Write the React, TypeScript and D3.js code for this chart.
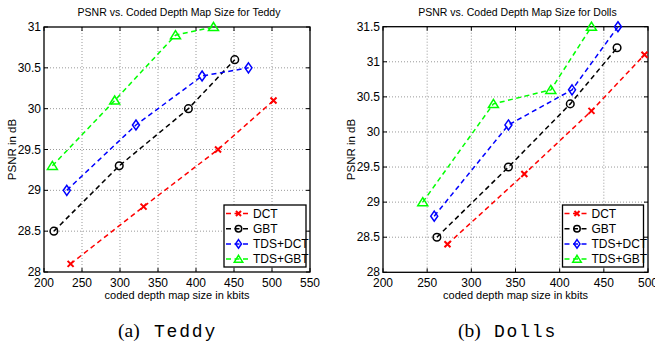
import React from 'react';
import * as d3 from 'd3';

// series names and colours
const seriesNames = ['DCT', 'GBT', 'TDS+DCT', 'TDS+GBT'];
const seriesColors = ['#ff0000', '#000000', '#0000ff', '#00ff00'];
const seriesMarkers = ['x', 'o', 'd', '^'];

// Teddy: coded size (kbits) and PSNR (dB)
const teddyX = [
  [235, 331, 429, 502],
  [213, 299, 390, 451],
  [230, 321, 408, 469],
  [211, 293, 373, 423],
];
const teddyY = [
  [28.1, 28.8, 29.5, 30.1],
  [28.5, 29.3, 30.0, 30.6],
  [29.0, 29.8, 30.4, 30.5],
  [29.3, 30.1, 30.9, 31.0],
];

// Dolls
const dollsX = [
  [273, 360, 436, 496],
  [261, 342, 412, 465],
  [258, 342, 414, 466],
  [245, 325, 390, 436],
];
const dollsY = [
  [28.4, 29.4, 30.3, 31.1],
  [28.5, 29.5, 30.4, 31.2],
  [28.8, 30.1, 30.6, 31.5],
  [29.0, 30.4, 30.6, 31.5],
];

const teddyXTicks = [200, 250, 300, 350, 400, 450, 500, 550];
const teddyYTicks = [28, 28.5, 29, 29.5, 30, 30.5, 31];
const dollsXTicks = [200, 250, 300, 350, 400, 450, 500];
const dollsYTicks = [28, 28.5, 29, 29.5, 30, 30.5, 31, 31.5];

const font = 'Liberation Sans, Arial, sans-serif';

const Marker = ({ type, x, y, color, s = 1 }) => {
  const sw = 1.5;
  if (type === 'x') {
    const r = 3 * s;
    return <path d={`M${x - r},${y - r}L${x + r},${y + r}M${x - r},${y + r}L${x + r},${y - r}`} stroke={color} strokeWidth={2} fill="none" />;
  }
  if (type === 'o') return <circle cx={x} cy={y} r={3.8 * s} stroke={color} strokeWidth={sw} fill="none" />;
  if (type === 'd') {
    const w = 3.5 * s, h = 5 * s;
    return <path d={`M${x},${y - h}L${x + w},${y}L${x},${y + h}L${x - w},${y}Z`} stroke={color} strokeWidth={sw} fill="none" />;
  }
  const w = 5 * s, h = 4.5 * s;
  return <path d={`M${x},${y - h}L${x + w},${y + h * 0.8}L${x - w},${y + h * 0.8}Z`} stroke={color} strokeWidth={sw} fill="none" />;
};

const Panel = ({ left, right, top, bottom, xDomain, yDomain, xTicks, yTicks, xs, ys, title, captionA, captionB, capX, legend }) => {
  const x = d3.scaleLinear().domain(xDomain).range([left, right]);
  const y = d3.scaleLinear().domain(yDomain).range([bottom, top]);
  const line = d3.line<number[]>().x(d => x(d[0])).y(d => y(d[1]));
  const cx = (left + right) / 2;
  const cy = (top + bottom) / 2;
  return (
    <g>
      <text x={cx + 2} y={16} textAnchor="middle" fontFamily={font} fontSize={10.5}>{title}</text>
      {xTicks.map(t => (
        <g key={'x' + t}>
          {t > xDomain[0] && t < xDomain[1] && (
            <line x1={x(t)} x2={x(t)} y1={top} y2={bottom} stroke="#999" strokeDasharray="1,2" />
          )}
          <line x1={x(t)} x2={x(t)} y1={bottom} y2={bottom - 4} stroke="#000" />
          <line x1={x(t)} x2={x(t)} y1={top} y2={top + 4} stroke="#000" />
          <text x={x(t)} y={bottom + 14.5} textAnchor="middle" fontFamily={font} fontSize={12}>{t}</text>
        </g>
      ))}
      {yTicks.map(t => (
        <g key={'y' + t}>
          {t > yDomain[0] && t < yDomain[1] && (
            <line x1={left} x2={right} y1={y(t)} y2={y(t)} stroke="#999" strokeDasharray="1,2" />
          )}
          <line x1={left} x2={left + 4} y1={y(t)} y2={y(t)} stroke="#000" />
          <line x1={right} x2={right - 4} y1={y(t)} y2={y(t)} stroke="#000" />
          <text x={left - 3} y={y(t) + 4} textAnchor="end" fontFamily={font} fontSize={12}>{t}</text>
        </g>
      ))}
      <rect x={left} y={top} width={right - left} height={bottom - top} fill="none" stroke="#000" strokeWidth={1.3} />
      {xs.map((row, i) => {
        const pts = row.map((v, j) => [v, ys[i][j]]);
        return (
          <g key={'s' + i}>
            <path d={line(pts) || ''} fill="none" stroke={seriesColors[i]} strokeWidth={1.5} strokeDasharray="5,3.5" />
            {pts.map((p, j) => (
              <Marker key={j} type={seriesMarkers[i]} x={x(p[0])} y={y(p[1])} color={seriesColors[i]} />
            ))}
          </g>
        );
      })}
      <g>
        <rect x={legend[0]} y={legend[1]} width={legend[2]} height={62} fill="#fff" stroke="#000" strokeWidth={1.3} />
        {seriesNames.map((n, i) => {
          const ry = legend[1] + 8.5 + i * 15.2;
          return (
            <g key={n}>
              <line x1={legend[0] + 2} x2={legend[0] + 27} y1={ry} y2={ry} stroke={seriesColors[i]} strokeWidth={1.5} strokeDasharray="5,3.5" />
              <Marker type={seriesMarkers[i]} x={legend[0] + 14.5} y={ry} color={seriesColors[i]} s={0.85} />
              <text x={legend[0] + 29} y={ry + 4.3} fontFamily={font} fontSize={12}>{n}</text>
            </g>
          );
        })}
      </g>
      <text x={cx} y={299} textAnchor="middle" fontFamily={font} fontSize={11}>coded depth map size in kbits</text>
      <text transform={`translate(${left - 28},${cy}) rotate(-90)`} textAnchor="middle" fontFamily={font} fontSize={11.5}>PSNR in dB</text>
      <text x={capX} y={337} fontSize={19.5} fontFamily="Liberation Serif, Times New Roman, serif">{captionA}</text>
      <text x={capX + 36} y={337} fontSize={18} letterSpacing={1.8} fontFamily="Liberation Mono, Courier New, monospace">{captionB}</text>
    </g>
  );
};

export default function App() {
  return (
    <svg width={655} height={346} style={{ position: 'absolute', left: 0, top: 0, background: '#fff' }}>
      <Panel left={44} right={310} top={27} bottom={272} xDomain={[200, 550]} yDomain={[28, 31]}
        xTicks={teddyXTicks} yTicks={teddyYTicks} xs={teddyX} ys={teddyY}
        title="PSNR vs. Coded Depth Map Size for Teddy" captionA="(a)" captionB="Teddy" capX={118}
        legend={[224, 205, 82]} />
      <Panel left={383} right={648} top={26.7} bottom={272.3} xDomain={[200, 500]} yDomain={[28, 31.5]}
        xTicks={dollsXTicks} yTicks={dollsYTicks} xs={dollsX} ys={dollsY}
        title="PSNR vs. Coded Depth Map Size for Dolls" captionA="(b)" captionB="Dolls" capX={458}
        legend={[562.5, 205, 81]} />
    </svg>
  );
}
